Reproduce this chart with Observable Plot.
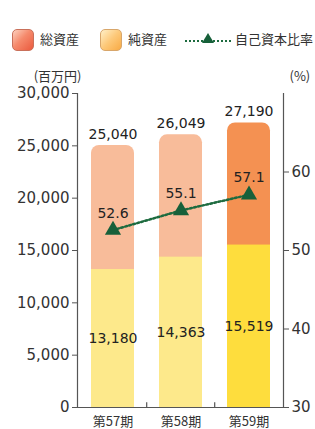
<!DOCTYPE html>
<html>
<head>
<meta charset="utf-8">
<script src="https://cdn.jsdelivr.net/npm/d3@7"></script>
<script src="https://cdn.jsdelivr.net/npm/@observablehq/plot@0.6"></script>
<style>
  body { margin: 0; background: #fff; font-family: "Noto Sans CJK JP", "Noto Sans", sans-serif; color: #333; }
  #wrap { width: 315px; height: 429px; position: relative; overflow: hidden; }
  #legend { position: relative; height: 60px; font-size: 13px; }
  .sw { position: absolute; top: 29px; width: 20px; height: 20px; border-radius: 5px; }
  .lt { position: absolute; top: 30px; line-height: 18px; white-space: nowrap; }
  svg { display: block; }
</style>
</head>
<body>
<div id="wrap">
  <div id="legend">
    <div class="sw" style="left:12px; border:1px solid #c9705a; background:linear-gradient(135deg,#fdd2c0 0%,#f58a6c 45%,#ea5a3e 100%);"></div>
    <div class="lt" style="left:40px;">総資産</div>
    <div class="sw" style="left:100px; border:1px solid #d8a66a; background:linear-gradient(135deg,#fff0c8 0%,#fdc878 50%,#f8aa45 100%);"></div>
    <div class="lt" style="left:128px;">純資産</div>
    <svg style="position:absolute; left:184px; top:31px;" width="50" height="16">
      <line x1="1" y1="10" x2="48" y2="10" stroke="#1d6b3f" stroke-width="2" stroke-dasharray="2 2"/>
      <path d="M24 2 L30 12 L18 12 Z" fill="#17603a"/>
    </svg>
    <div class="lt" style="left:235px;">自己資本比率</div>
  </div>
  <div id="chart"></div>
</div>
<script>
const periods = ["第57期", "第58期", "第59期"];
const totalAssets = [25040, 26049, 27190];
const netAssets = [13180, 14363, 15519];
const equityRatio = [52.6, 55.1, 57.1];
const leftTicks = [0, 5000, 10000, 15000, 20000, 25000, 30000];
const rightTicks = [30, 40, 50, 60];
const ratioDomain = [30, 70];
const yDomain = [0, 30000];

const toY = r => (r - ratioDomain[0]) / (ratioDomain[1] - ratioDomain[0]) * (yDomain[1] - yDomain[0]) + yDomain[0];
const fromY = v => (v - yDomain[0]) / (yDomain[1] - yDomain[0]) * (ratioDomain[1] - ratioDomain[0]) + ratioDomain[0];

const data = periods.map((p, i) => ({
  period: p, total: totalAssets[i], net: netAssets[i], ratio: equityRatio[i], latest: i === periods.length - 1
}));

const fmt = d3.format(",");
const txt = "#333";
const axisColor = "#555";
const numFont = '"DejaVu Sans", sans-serif';

const chart = Plot.plot({
  width: 315,
  height: 369,
  marginTop: 33,
  marginBottom: 22,
  marginLeft: 77,
  marginRight: 32,
  style: { fontFamily: '"Noto Sans CJK JP", "Noto Sans", sans-serif', color: txt, background: "#fff" },
  x: { domain: periods, paddingInner: 0.37, paddingOuter: 0.185, axis: null },
  y: { domain: yDomain, axis: null },
  marks: [
    Plot.barY(data, { x: "period", y: "total", fill: d => d.latest ? "#f49152" : "#f8bc9a", rx: 8 }),
    Plot.barY(data, { x: "period", y: "net", fill: d => d.latest ? "#fedd3d" : "#fde98b" }),
    Plot.text(data, { x: "period", y: "total", text: d => fmt(d.total), dy: -11, fontSize: 14, fill: "#222", fontFamily: numFont }),
    Plot.text(data, { x: "period", y: d => d.net / 2, text: d => fmt(d.net), fontSize: 14, fill: "#222", fontFamily: numFont }),
    Plot.line(data, { x: "period", y: d => toY(d.ratio), stroke: "#1d6b3f", strokeWidth: 2.5, strokeDasharray: "2 2.2" }),
    Plot.dot(data, { x: "period", y: d => toY(d.ratio), symbol: "triangle", r: 6, fill: "#17603a", stroke: null }),
    Plot.text(data, { x: "period", y: d => toY(d.ratio), text: d => d.ratio.toFixed(1), dy: -17, fontSize: 14, fill: "#222", fontFamily: numFont }),
    Plot.frame({ anchor: "left", stroke: axisColor, strokeWidth: 1.2 }),
    Plot.frame({ anchor: "right", stroke: axisColor, strokeWidth: 1.2 }),
    Plot.ruleY([0], { stroke: axisColor, strokeWidth: 1.2 }),
    Plot.ruleX(periods.slice(1), { x: d => d, dx: -34.3, y1: 0, y2: 450, stroke: axisColor, strokeWidth: 1.2 }),
    Plot.axisY({ ticks: leftTicks, tickFormat: fmt, tickSize: 5, tickPadding: 3, fontSize: 15, fontFamily: numFont, label: null, stroke: axisColor, fill: txt }),
    Plot.axisY({ anchor: "right", ticks: rightTicks.map(toY), tickFormat: v => Math.round(fromY(v)), tickSize: 5, tickPadding: 3, fontSize: 15, fontFamily: numFont, label: null, stroke: axisColor, fill: txt }),
    Plot.axisX({ tickSize: 0, tickPadding: 9, fontSize: 13, label: null, fill: txt }),
    Plot.text(["(百万円)"], { frameAnchor: "top-left", dx: 4, dy: -22, textAnchor: "end", fontSize: 13, fill: txt }),
    Plot.text(["(%)"], { frameAnchor: "top-right", dx: 6, dy: -22, textAnchor: "start", fontSize: 13, fill: txt })
  ]
});
document.getElementById("chart").appendChild(chart);
</script>
</body>
</html>
